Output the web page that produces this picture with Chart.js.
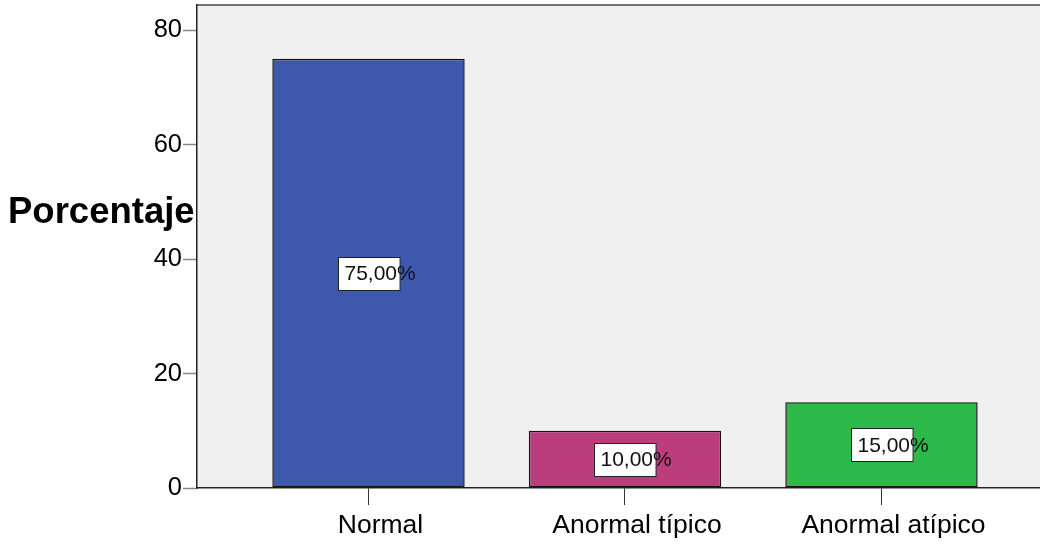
<!DOCTYPE html>
<html>
<head>
<meta charset="utf-8">
<script src="https://cdn.jsdelivr.net/npm/chart.js@4/dist/chart.umd.min.js"></script>
<style>
  html, body { margin: 0; padding: 0; background: #ffffff; }
  canvas { display: block; }
</style>
</head>
<body>
<canvas id="chart" width="1040" height="544"></canvas>
<script>
// Categories and their percentages
const categories = ['Normal', 'Anormal típico', 'Anormal atípico'];
const percentages = [75, 10, 15];
const barColors = ['#3D58AC', '#BB3D7C', '#2DB84A'];
const yTicks = [0, 20, 40, 60, 80];
const yTitle = 'Porcentaje';

const FONT = '"Liberation Sans", Arial, Helvetica, sans-serif';

// Bars are placed on a numeric axis at 0, 1, 2
const points = percentages.map((v, i) => ({ x: i, y: v }));

function formatPct(v) {
  return v.toFixed(2).replace('.', ',');
}

// Grey plot background plus the top frame line
const plotFrame = {
  id: 'plotFrame',
  beforeDraw(chart) {
    const { ctx, chartArea: a } = chart;
    ctx.save();
    ctx.fillStyle = '#F0F0F0';
    ctx.fillRect(a.left, a.top, a.right - a.left, a.bottom - a.top);
    ctx.strokeStyle = '#444444';
    ctx.lineWidth = 1.5;
    ctx.beginPath();
    ctx.moveTo(a.left, a.top);
    ctx.lineTo(a.right, a.top);
    ctx.stroke();
    ctx.restore();
  }
};

// Boxed value labels centred in each bar
const valueLabels = {
  id: 'valueLabels',
  afterDatasetsDraw(chart) {
    const { ctx } = chart;
    const meta = chart.getDatasetMeta(0);
    ctx.save();
    ctx.font = '21px ' + FONT;
    meta.data.forEach((bar, i) => {
      const v = percentages[i];
      const num = formatPct(v);
      const w = ctx.measureText(num).width + 9;
      const h = 33;
      const cx = bar.x;
      const cy = (bar.y + bar.base) / 2;
      const left = Math.round(cx - w / 2) + 0.5;
      const top = Math.round(cy - h / 2) + 0.5;
      ctx.fillStyle = '#ffffff';
      ctx.fillRect(left, top, w, h);
      ctx.strokeStyle = '#222222';
      ctx.lineWidth = 1;
      ctx.strokeRect(left, top, w, h);
      ctx.fillStyle = '#111111';
      ctx.textAlign = 'left';
      ctx.textBaseline = 'middle';
      ctx.fillText(num + '%', left + 6, cy + 1);
    });
    ctx.restore();
  }
};

// Category names under the axis, and the horizontal title beside the value axis
const axisText = {
  id: 'axisText',
  afterDraw(chart) {
    const { ctx } = chart;
    const xs = chart.scales.x;
    ctx.save();
    ctx.font = '26.5px ' + FONT;
    ctx.fillStyle = '#000000';
    ctx.textAlign = 'center';
    ctx.textBaseline = 'alphabetic';
    categories.forEach((name, i) => {
      ctx.fillText(name, xs.getPixelForValue(i) + 12, 533);
    });
    ctx.font = 'bold 36.5px ' + FONT;
    ctx.textAlign = 'left';
    ctx.fillText(yTitle, 8, 223);
    ctx.restore();
  }
};

new Chart(document.getElementById('chart'), {
  type: 'bar',
  data: {
    datasets: [{
      data: points,
      backgroundColor: barColors,
      borderColor: '#151515',
      borderWidth: 1.5,
      borderSkipped: false,
      barPercentage: 0.75,
      categoryPercentage: 1
    }]
  },
  options: {
    responsive: false,
    animation: false,
    layout: { padding: { top: 5, left: 0, right: 0, bottom: 0 } },
    plugins: {
      legend: { display: false },
      tooltip: { enabled: false }
    },
    scales: {
      x: {
        type: 'linear',
        offset: false,
        min: -0.6686,
        max: 2.618,
        afterBuildTicks(scale) {
          scale.ticks = categories.map((_, i) => ({ value: i }));
        },
        afterFit(scale) {
          scale.height = 56;
          scale.paddingLeft = 0;
          scale.paddingRight = 0;
        },
        grid: {
          offset: false,
          drawOnChartArea: false,
          drawTicks: true,
          tickLength: 17,
          tickColor: '#333333',
          tickWidth: 1
        },
        border: { display: true, color: '#222222', width: 1.5 },
        ticks: { display: false }
      },
      y: {
        min: 0,
        max: 84.4,
        afterBuildTicks(scale) {
          scale.ticks = yTicks.map(v => ({ value: v }));
        },
        afterFit(scale) {
          scale.width = 197;
          scale.paddingTop = 0;
          scale.paddingBottom = 0;
        },
        grid: {
          drawOnChartArea: false,
          drawTicks: true,
          tickLength: 14,
          tickColor: '#888888',
          tickWidth: 1.5
        },
        border: { display: true, color: '#222222', width: 1.5 },
        ticks: {
          padding: 1,
          color: '#000000',
          font: { family: FONT, size: 25.5 }
        }
      }
    }
  },
  plugins: [plotFrame, valueLabels, axisText]
});
</script>
</body>
</html>
